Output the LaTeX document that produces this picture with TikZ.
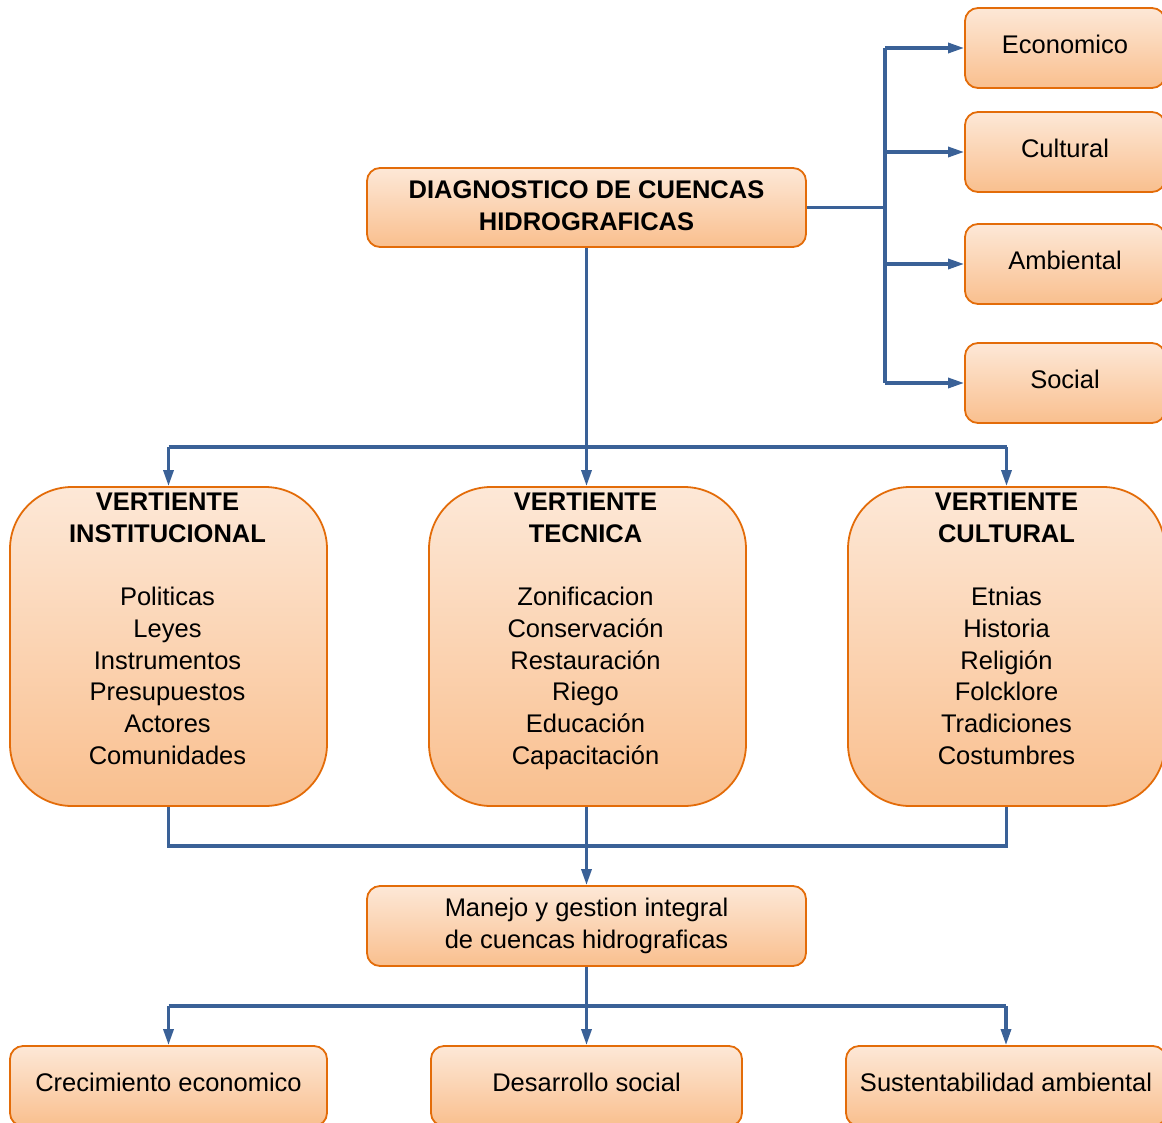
\documentclass[tikz,border=0pt]{standalone}
\usepackage{fontspec}
\setmainfont{Liberation Sans}
\usetikzlibrary{arrows.meta}
\definecolor{fillTop}{HTML}{FDE8D7}
\definecolor{fillBot}{HTML}{F9BF8E}
\definecolor{edge}{HTML}{E36C09}
\definecolor{link}{HTML}{3A6197}
\begin{document}
\begin{tikzpicture}[x=1pt,y=-1pt,
  box/.style={draw=edge,line width=1.8pt,rounded corners=13pt,
    top color=fillTop,bottom color=fillBot,inner sep=0pt,
    font=\fontsize{25.5}{31.7}\selectfont,align=center,text=black},
  one/.style={box,text height=18pt,text depth=8pt},
  bigbox/.style={box,rounded corners=62pt,minimum width=317pt,minimum height=319pt},
  txt/.style={font=\fontsize{25.5}{31.7}\selectfont,align=center,text=black,inner sep=0pt},
  conn/.style={draw=link,line width=3.2pt},
  arr/.style={conn,-{Triangle[length=16pt,width=10pt]}}]

\useasboundingbox (0,0) rectangle (1162,1122);
\clip (0,0) rectangle (1162,1122);

% top box
\node[box,minimum width=439pt,minimum height=79pt,text depth=4pt] (dg) at (586.5,207.5)
  {\textbf{DIAGNOSTICO DE CUENCAS}\\\textbf{HIDROGRAFICAS}};

% aspects on the right
\node[one,minimum width=200pt,minimum height=80pt] (ec) at (1065,48) {Economico};
\node[one,minimum width=200pt,minimum height=80pt] (cu) at (1065,152) {Cultural};
\node[one,minimum width=200pt,minimum height=80pt] (am) at (1065,264) {Ambiental};
\node[one,minimum width=200pt,minimum height=80pt] (so) at (1065,383) {Social};

% three vertientes
\node[bigbox] (vi) at (168.5,646.5) {};
\node[bigbox] (vt) at (587.5,646.5) {};
\node[bigbox] (vc) at (1006.5,646.5) {};
\node[txt,anchor=north] (vitx) at (167.5,493)
  {\textbf{VERTIENTE}\\\textbf{INSTITUCIONAL}\\[31.7pt]Politicas\\Leyes\\Instrumentos\\Presupuestos\\Actores\\Comunidades};
\node[txt,anchor=north] (vttx) at (585.5,493)
  {\textbf{VERTIENTE}\\\textbf{TECNICA}\\[31.7pt]Zonificacion\\Conservación\\Restauración\\Riego\\Educación\\Capacitación};
\node[txt,anchor=north] (vctx) at (1006.5,493)
  {\textbf{VERTIENTE}\\\textbf{CULTURAL}\\[31.7pt]Etnias\\Historia\\Religión\\Folcklore\\Tradiciones\\Costumbres};

% integration box
\node[box,minimum width=439pt,minimum height=80pt] (mg) at (586.5,926)
  {Manejo y gestion integral\\de cuencas hidrograficas};

% outcomes
\node[one,minimum width=317pt,minimum height=80pt] (cr) at (168.5,1086) {Crecimiento economico};
\node[one,minimum width=311pt,minimum height=80pt] (de) at (586.5,1086) {Desarrollo social};
\node[one,minimum width=320pt,minimum height=80pt] (su) at (1006,1086) {Sustentabilidad ambiental};

% connector routing points
\coordinate (spine) at (885,0);
\coordinate (fork) at (586.5,447);
\coordinate (join) at (586.5,846);
\coordinate (split) at (586.5,1006);

% top box to the aspects
\draw[conn] (dg.east) -- (dg.east -| spine);
\draw[conn] (ec.west -| spine) -- (so.west -| spine);
\foreach \b in {ec,cu,am,so}
  \draw[arr] (\b.west -| spine) -- (\b.west);

% top box to the vertientes
\draw[conn] (dg.south) -- (fork);
\draw[conn] (vi.north |- fork) -- (vc.north |- fork);
\draw[arr] (vi.north |- fork) -- (vi.north);
\draw[arr] (fork) -- (fork |- vt.north);
\draw[arr] (vc.north |- fork) -- (vc.north);

% vertientes to integration box
\draw[conn] (vi.south) -- (vi.south |- join) -- (vc.south |- join) -- (vc.south);
\draw[arr] (join |- vt.south) -- (mg.north);

% integration box to outcomes
\draw[conn] (mg.south) -- (split);
\draw[conn] (cr.north |- split) -- (su.north |- split);
\draw[arr] (cr.north |- split) -- (cr.north);
\draw[arr] (split) -- (de.north);
\draw[arr] (su.north |- split) -- (su.north);
\end{tikzpicture}
\end{document}
